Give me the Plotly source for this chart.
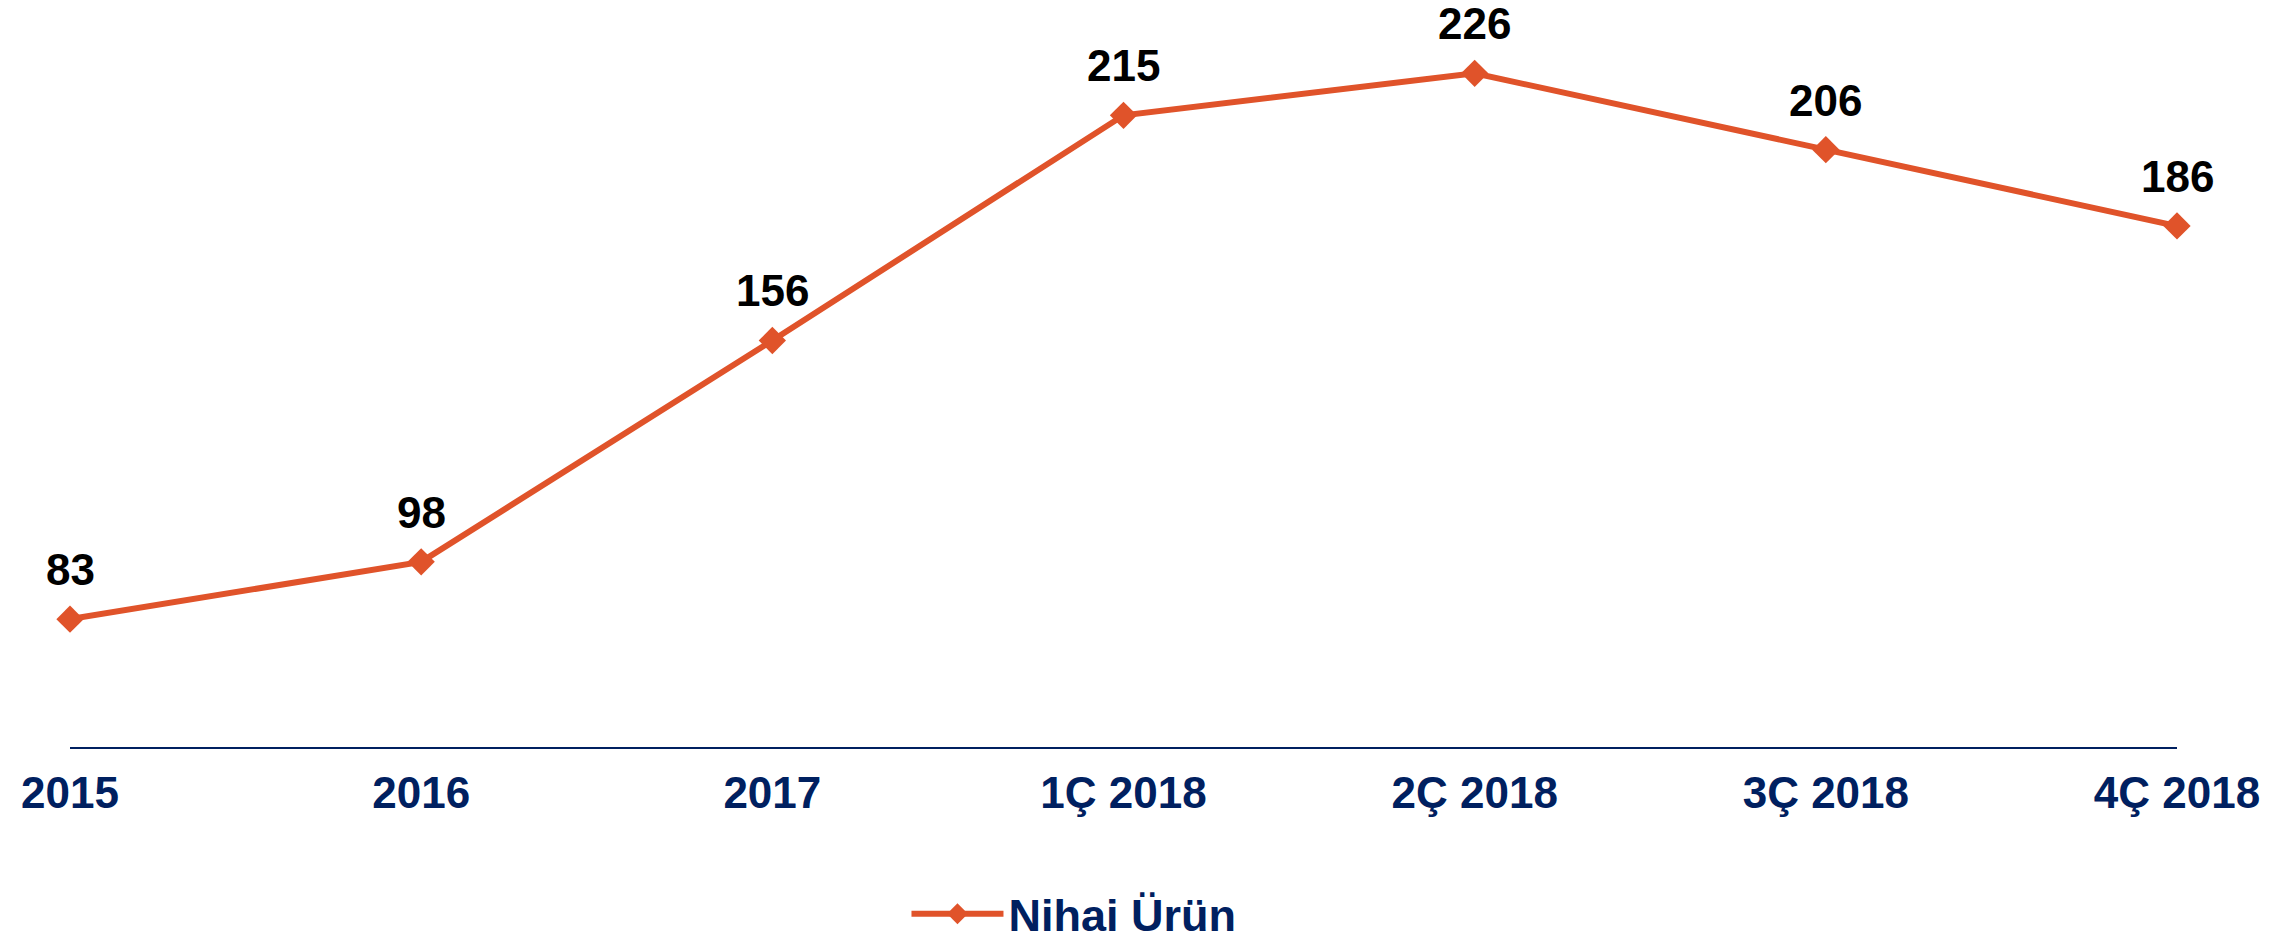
import plotly.graph_objects as go

categories = ["2015", "2016", "2017", "1Ç 2018", "2Ç 2018", "3Ç 2018", "4Ç 2018"]
values = [83, 98, 156, 215, 226, 206, 186]
series_name = "Nihai Ürün"

ORANGE = "#E0532A"
NAVY = "#002060"
FONT = "Arial, Liberation Sans, sans-serif"

fig = go.Figure()
fig.add_trace(go.Scatter(
    x=list(range(len(categories))), y=values, name=series_name,
    mode="lines+markers",
    line=dict(color=ORANGE, width=6),
    marker=dict(symbol="diamond", size=21, color=ORANGE),
    cliponaxis=False,
))

for i, v in enumerate(values):
    fig.add_annotation(x=i, y=v, text=str(v), showarrow=False,
                       yanchor="bottom", yshift=24, borderpad=0,
                       font=dict(family=FONT, size=44, color="black", weight="bold"))

fig.update_layout(
    width=2295, height=950,
    margin=dict(l=69.5, r=118, t=0, b=195.7),
    paper_bgcolor="white", plot_bgcolor="white",
    showlegend=True,
    legend=dict(orientation="h", x=0.397, xanchor="left", y=-0.224, yanchor="middle",
                font=dict(family=FONT, size=45, color=NAVY, weight="bold"),
                itemwidth=92),
    xaxis=dict(range=[0, len(categories) - 1], tickmode="array",
               tickvals=list(range(len(categories))), ticktext=categories,
               showgrid=False, zeroline=False, showline=True, linecolor=NAVY, linewidth=2,
               ticks="", ticklabelstandoff=6, automargin=False,
               tickfont=dict(family=FONT, size=44, color=NAVY, weight="bold")),
    yaxis=dict(range=[49.5, 245.2], visible=False, showgrid=False, zeroline=False),
)

fig.write_html("out.html", config={"displayModeBar": False},
               post_script="document.body.style.margin='0';")
